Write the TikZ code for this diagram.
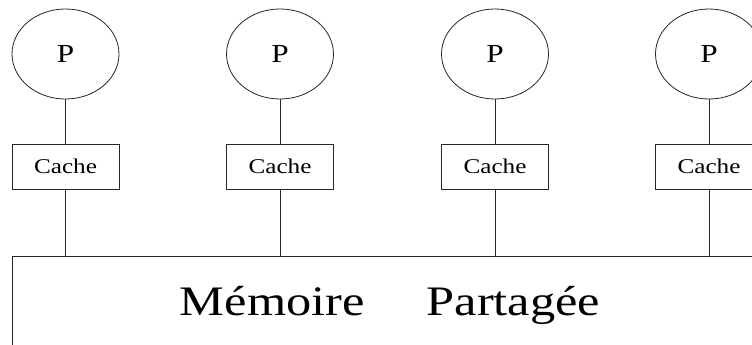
\documentclass[tikz,border=0pt]{standalone}
\usepackage{fontspec}
\setmainfont{Liberation Serif}[FakeStretch=1.2]
\usetikzlibrary{positioning}
\usetikzlibrary{shapes.geometric}

\begin{document}
\begin{tikzpicture}[x=1pt,y=-1pt,
					procnode/.style={ellipse, draw=black!85, line width=0.8pt, fill=white, minimum width=107pt, minimum height=90pt, inner sep=0pt, font=\fontsize{26}{30}\selectfont},
					cachenode/.style={rectangle, draw=black!85, line width=0.8pt, fill=white, minimum width=107pt, minimum height=45pt, inner sep=0pt, font=\fontsize{21}{24}\selectfont},
					]
					\useasboundingbox (0,0) rectangle (752,345);
					\clip (0,0) rectangle (752,345);
					%Nodes
					\node[procnode]       (p1)      at 	(65.5,54)       {P};
					\node[procnode]       (p2)      at 	(280,54)        {P};
					\node[procnode]       (p3)      at 	(495,54)        {P};
					\node[procnode]       (p4)      at 	(709,54)        {P};
					\node[cachenode]      (c1)      at 	(65.5,166.5)    {Cache};
					\node[cachenode]      (c2)      at 	(280,166.5)     {Cache};
					\node[cachenode]      (c3)      at 	(495,166.5)     {Cache};
					\node[cachenode]      (c4)      at 	(709,166.5)     {Cache};
					\coordinate           (b1)      at 	(65.5,256);
					\coordinate           (b2)      at 	(280,256);
					\coordinate           (b3)      at 	(495,256);
					\coordinate           (b4)      at 	(709,256);
					\coordinate           (mbl)     at 	(12,350);
					\coordinate           (mtl)     at 	(12,256);
					\coordinate           (mtr)     at 	(770,256);
					\node[anchor=base, font=\fontsize{42}{50}\selectfont] (mem) at (390,315) {Mémoire\hspace{62pt}Partagée};
					
					%Lines
					\draw[line width=0.8pt, draw=black!85] (mbl) -- (mtl) -- (mtr);
					\draw[line width=0.8pt, draw=black!85] (p1.south) -- (c1.north);
					\draw[line width=0.8pt, draw=black!85] (p2.south) -- (c2.north);
					\draw[line width=0.8pt, draw=black!85] (p3.south) -- (c3.north);
					\draw[line width=0.8pt, draw=black!85] (p4.south) -- (c4.north);
					\draw[line width=0.8pt, draw=black!85] (c1.south) -- (b1);
					\draw[line width=0.8pt, draw=black!85] (c2.south) -- (b2);
					\draw[line width=0.8pt, draw=black!85] (c3.south) -- (b3);
					\draw[line width=0.8pt, draw=black!85] (c4.south) -- (b4);
				\end{tikzpicture}
\end{document}
